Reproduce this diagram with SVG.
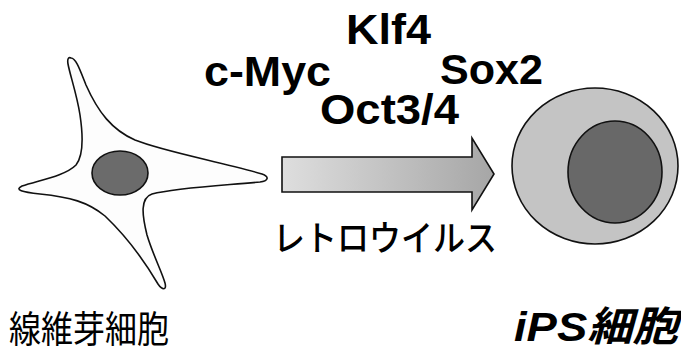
<svg xmlns="http://www.w3.org/2000/svg" width="681" height="353" viewBox="0 0 681 353">
  <style>
    .factor { font-family: "Liberation Sans", Arial, sans-serif; font-weight: bold; font-size: 42px; fill: #000; }
    .jp { font-family: "Noto Sans CJK JP", sans-serif; fill: #000; }
    .outline { stroke: #111; stroke-width: 1.6; }
  </style>
  <defs>
    <linearGradient id="arrowFill" x1="0" y1="0" x2="1" y2="0">
      <stop offset="0" stop-color="#dedede"/>
      <stop offset="1" stop-color="#a6a6a6"/>
    </linearGradient>
  </defs>

  <rect width="681" height="353" fill="#fff"/>

  <!-- fibroblast -->
  <g id="fibroblast">
    <path class="outline" fill="#fdfdfd" stroke-width="1.3" d="M 71,58 C 76,58 80,70 86,85 C 98,112 112,130 135,140 C 165,152 222,162 262,174 C 270,177 268,181 260,182 C 215,186 175,188 152,194 C 140,198 142,215 147,235 C 153,255 162,272 165,283 C 167,291 162,290 158,284 C 145,262 125,235 105,216 C 88,202 70,197 40,194 C 22,192 14,190 22,186 C 40,180 65,176 76,165 C 84,155 83,135 80,115 C 77,95 70,75 68,64 C 67,58 69,57 71,58 Z"/>
    <ellipse class="outline" cx="120" cy="173" rx="28" ry="22" fill="#6b6b6b"/>
  </g>

  <!-- iPS cell -->
  <g id="ips-cell">
    <ellipse class="outline" cx="595" cy="166" rx="83" ry="78" fill="#c4c4c4" stroke-width="1.8"/>
    <ellipse class="outline" cx="615" cy="172" rx="47" ry="51" fill="#686868" stroke-width="1.8"/>
  </g>

  <!-- reprogramming arrow -->
  <g id="connectors">
    <path class="outline" fill="url(#arrowFill)" stroke-width="1.4" d="M 282,157 H 472 V 138 L 494,174 L 472,210 V 192 H 282 Z"/>
  </g>

  <!-- transcription factors -->
  <g id="factors">
    <text class="factor" x="346" y="44" textLength="85" lengthAdjust="spacingAndGlyphs">Klf4</text>
    <text class="factor" x="204" y="86" textLength="127" lengthAdjust="spacingAndGlyphs">c-Myc</text>
    <text class="factor" x="440" y="84" textLength="103" lengthAdjust="spacingAndGlyphs">Sox2</text>
    <text class="factor" x="320" y="124" textLength="139" lengthAdjust="spacingAndGlyphs">Oct3/4</text>
  </g>

  <!-- vector label -->
  <g id="vector-label">
    <text class="jp" x="273" y="251" font-size="35" font-weight="500" textLength="224" lengthAdjust="spacingAndGlyphs">レトロウイルス</text>
  </g>

  <!-- cell names -->
  <g id="cell-names">
    <text class="jp" x="9" y="343" font-size="37" textLength="160" lengthAdjust="spacingAndGlyphs">線維芽細胞</text>
    <text x="514" y="341" font-family="Liberation Sans, Noto Sans CJK JP, sans-serif" font-weight="bold" font-style="italic" font-size="41" textLength="164" lengthAdjust="spacingAndGlyphs">iPS細胞</text>
  </g>
</svg>
